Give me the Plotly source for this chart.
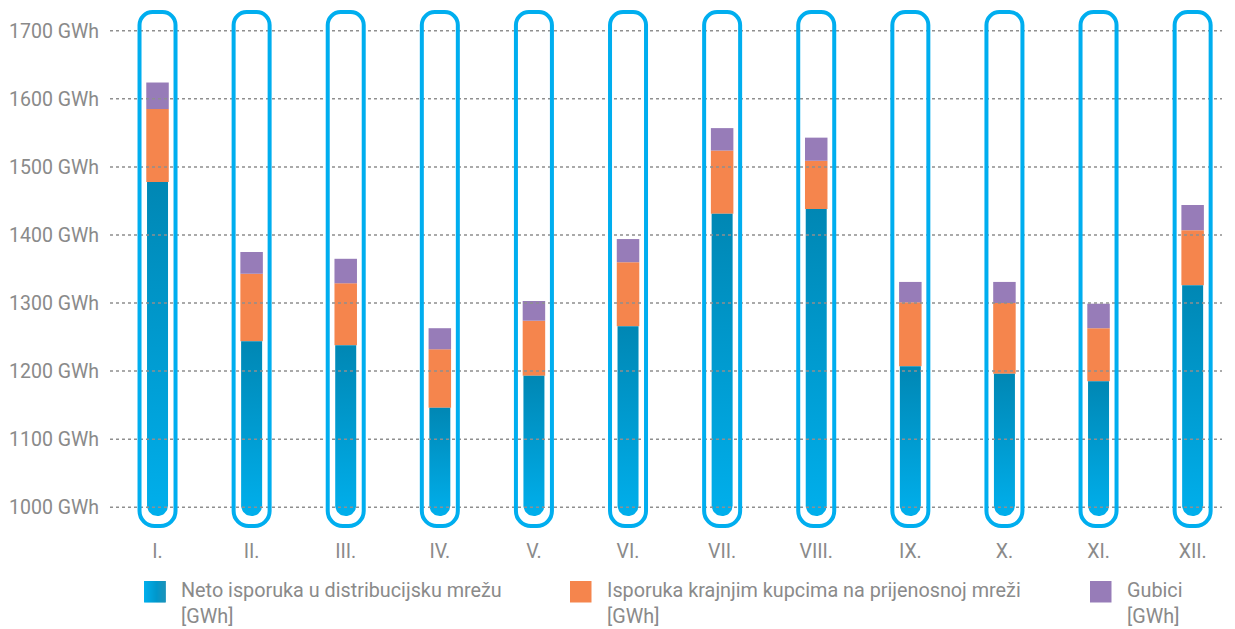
import numpy as np
import plotly.graph_objects as go

# Monthly values, GWh
months = ["I.", "II.", "III.", "IV.", "V.", "VI.", "VII.", "VIII.", "IX.", "X.", "XI.", "XII."]
neto_distribucija = [1478, 1244, 1238, 1146, 1193, 1266, 1431, 1438, 1207, 1196, 1185, 1326]
krajnji_kupci = [107, 99, 91, 86, 81, 94, 93, 71, 94, 104, 78, 81]
gubici = [39, 32, 36, 31, 29, 34, 33, 34, 30, 31, 36, 37]

y_ticks = [1000, 1100, 1200, 1300, 1400, 1500, 1600, 1700]
y_ticktext = [f"{v} GWh" for v in y_ticks]

series_names = [
    "Neto isporuka u distribucijsku mrežu<br>[GWh]",
    "Isporuka krajnjim kupcima na prijenosnoj mreži<br>[GWh]",
    "Gubici<br>[GWh]",
]

# Styling
W, H = 1235, 629
M_L, M_R, M_T, M_B = 110, 13, 9, 100
X_RANGE = [-0.505, 11.312]
Y_RANGE = [968, 1732]
BLUE_DARK, BLUE_LIGHT = "#0087b4", "#00afec"
ORANGE, PURPLE = "#f5854d", "#977cb8"
OUTLINE = "#00aeef"
TEXT = "#8a8a8a"
FONT = "Roboto"

plot_w = W - M_L - M_R
plot_h = H - M_T - M_B
px_x = plot_w / (X_RANGE[1] - X_RANGE[0])   # pixels per category unit
px_y = plot_h / (Y_RANGE[1] - Y_RANGE[0])   # pixels per GWh

x = list(range(len(months)))
bar_w = 22.5 / px_x
blue_hw = 10.5 / px_x
floor = 987.0                 # lowest point of the rounded bar foot
r_y = 10.5 / px_y

fig = go.Figure()

# Blue column: rounded foot, vertical gradient per month
theta = np.linspace(0, np.pi, 25)
for i, v in zip(x, neto_distribucija):
    xs = [i - blue_hw, i + blue_hw, i + blue_hw]
    ys = [v, v, floor + r_y]
    xs += list(i + blue_hw * np.cos(theta))
    ys += list(floor + r_y - r_y * np.sin(theta))
    xs += [i - blue_hw, i - blue_hw]
    ys += [floor + r_y, v]
    fig.add_trace(go.Scatter(
        x=xs, y=ys, mode="lines", fill="toself",
        line=dict(width=0, color=BLUE_DARK),
        fillgradient=dict(type="vertical", start=floor, stop=v,
                          colorscale=[[0, BLUE_LIGHT], [1, BLUE_DARK]]),
        name=series_names[0], showlegend=False, hoverinfo="skip",
    ))

base2 = [a + b for a, b in zip(neto_distribucija, krajnji_kupci)]
fig.add_trace(go.Bar(x=x, y=krajnji_kupci, base=neto_distribucija, width=bar_w,
                     marker=dict(color=ORANGE, line=dict(width=0)),
                     name=series_names[1], showlegend=False))
fig.add_trace(go.Bar(x=x, y=gubici, base=base2, width=bar_w,
                     marker=dict(color=PURPLE, line=dict(width=0)),
                     name=series_names[2], showlegend=False))

shapes = []
# Dotted grid drawn over the columns
for v in y_ticks:
    shapes.append(dict(type="line", xref="paper", yref="y", x0=0, x1=1, y0=v, y1=v,
                       line=dict(color="#8f8f8f", width=1.5, dash="3px,3px"), layer="above"))


def capsule(xl, xr, yb, yt, rt, rb):
    k = 0.5523
    return (f"M{xl},{yb + rb} L{xl},{yt - rt} "
            f"C{xl},{yt - rt + k * rt} {xl + rt - k * rt},{yt} {xl + rt},{yt} "
            f"L{xr - rt},{yt} "
            f"C{xr - rt + k * rt},{yt} {xr},{yt - rt + k * rt} {xr},{yt - rt} "
            f"L{xr},{yb + rb} "
            f"C{xr},{yb + rb - k * rb} {xr - rb + k * rb},{yb} {xr - rb},{yb} "
            f"L{xl + rb},{yb} "
            f"C{xl + rb - k * rb},{yb} {xl},{yb + rb - k * rb} {xl},{yb + rb} Z")


# Tube outlines around each month (pixel offsets from the 1000 GWh line)
y1000_px = M_T + (Y_RANGE[1] - 1000) * px_y
tube = capsule(-18, 18, -(526 - y1000_px), y1000_px - 12, 13, 15)
for i in x:
    shapes.append(dict(type="path", xref="x", yref="y", xsizemode="pixel", ysizemode="pixel",
                       xanchor=i, yanchor=1000, path=tube,
                       line=dict(color=OUTLINE, width=4), layer="above"))


# Legend drawn at the bottom
def px2paper_x(p):
    return (p - M_L) / plot_w


def px2paper_y(p):
    return 1 - (p - M_T) / plot_h


legend_x = [144, 570, 1090]
sw_top, sw_size = 581, 21.5
annotations = []
# gradient swatch for the blue series
n_steps = 22
for s in range(n_steps):
    t = s / (n_steps - 1)
    c0 = np.array([0x00, 0xaf, 0xec])
    c1 = np.array([0x00, 0x87, 0xb4])
    c = (c0 + (c1 - c0) * t).round().astype(int)
    x0 = legend_x[0] + sw_size * s / n_steps
    x1 = legend_x[0] + sw_size * (s + 1) / n_steps + 0.3
    shapes.append(dict(type="rect", xref="paper", yref="paper",
                       x0=px2paper_x(x0), x1=px2paper_x(x1),
                       y0=px2paper_y(sw_top + sw_size), y1=px2paper_y(sw_top),
                       fillcolor=f"rgb({c[0]},{c[1]},{c[2]})", line=dict(width=0), layer="above"))
for lx, col in zip(legend_x[1:], [ORANGE, PURPLE]):
    shapes.append(dict(type="rect", xref="paper", yref="paper",
                       x0=px2paper_x(lx), x1=px2paper_x(lx + sw_size),
                       y0=px2paper_y(sw_top + sw_size), y1=px2paper_y(sw_top),
                       fillcolor=col, line=dict(width=0), layer="above"))
for lx, name in zip(legend_x, series_names):
    annotations.append(dict(xref="paper", yref="paper", x=px2paper_x(lx + 35), y=px2paper_y(577),
                            xanchor="left", yanchor="top", align="left", showarrow=False,
                            text=name, font=dict(family=FONT, size=19.8, color=TEXT)))

fig.update_layout(
    width=W, height=H, autosize=False,
    margin=dict(l=M_L, r=M_R, t=M_T, b=M_B),
    paper_bgcolor="white", plot_bgcolor="white",
    barmode="overlay", showlegend=False, hovermode=False,
    shapes=shapes, annotations=annotations,
    font=dict(family=FONT, color=TEXT, size=19),
    xaxis=dict(range=X_RANGE, tickvals=x, ticktext=months, showgrid=False, zeroline=False,
               showline=False, ticks="", tickfont=dict(size=19.5, color=TEXT), ticklabelstandoff=8),
    yaxis=dict(range=Y_RANGE, tickvals=y_ticks, ticktext=y_ticktext, showgrid=False,
               zeroline=False, showline=False, ticks="", tickfont=dict(size=19.5, color=TEXT),
               ticklabelstandoff=10),
)

fig.write_html("out.html", config={"displayModeBar": False})
